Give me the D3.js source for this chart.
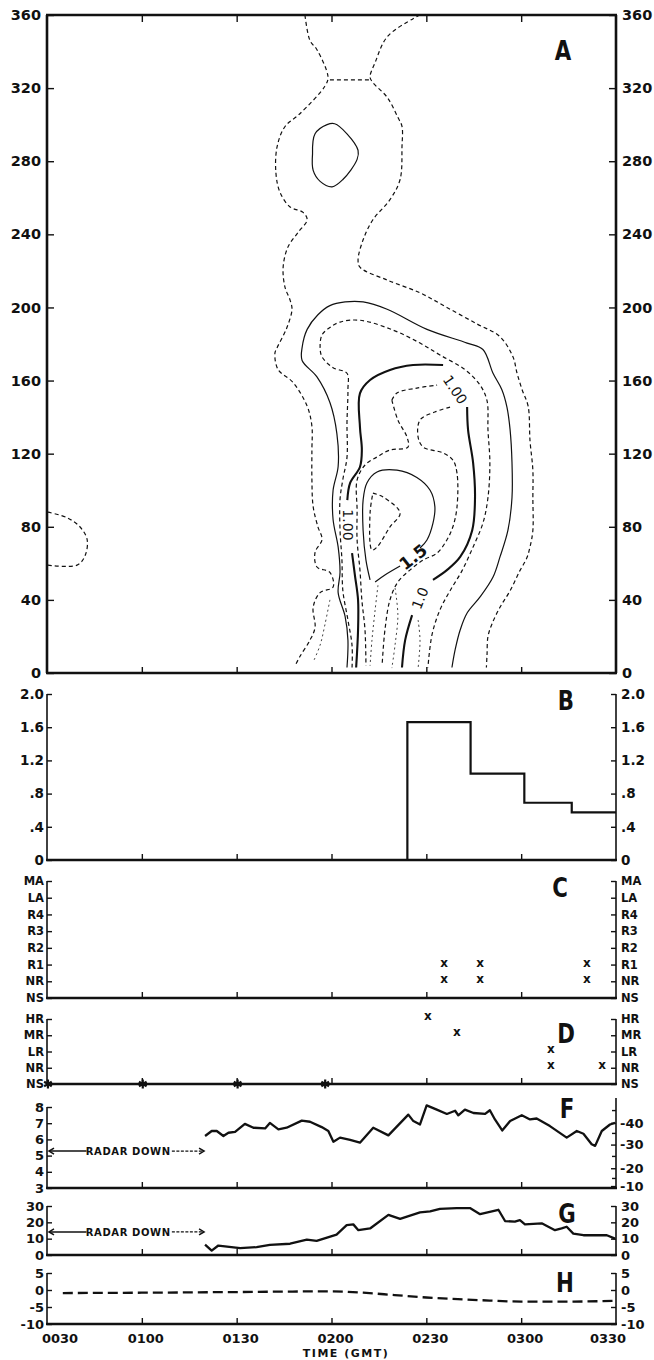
<!DOCTYPE html>
<html>
<head>
<meta charset="UTF-8">
<title>Storm time sections</title>
<script src="https://d3js.org/d3.v7.min.js"></script>
<style>
  body { margin: 0; background: #fff; }
  svg text { font-family: "DejaVu Sans", sans-serif; fill: #111; }
</style>
</head>
<body>
<svg id="chart" width="654" height="1360"></svg>
<script>
// time is minutes after 0030 GMT
const timeTicks = [0, 30, 60, 90, 120, 150, 180];
const timeLabels = ["0030", "0100", "0130", "0200", "0230", "0300", "0330"];

// panel A : azimuth (deg) vs time, contours as [minutes, degrees]
const azTicks = [0, 40, 80, 120, 160, 200, 240, 280, 320, 360];
const cOuterLeft = [[81.6,360],[83.2,346],[85.4,341],[88.9,326],[87.9,321],[80,306],[75.3,299],[72.8,288],[72.4,274],[73.7,263],[76.9,255],[81,252],[82.3,248],[79.4,241],[76.2,233],[74.7,222],[75.3,211],[76.9,204],[77.5,199],[75.9,189],[72.8,178],[72.1,175],[73.1,166],[77.8,159],[82.3,146],[83.8,135],[83.8,122],[83.8,106],[84.2,91],[85.7,80],[87,73],[84.8,66],[85.4,58],[89.5,55],[90.5,47],[86.4,44],[84.2,36],[84.8,25],[83.2,18],[80,9],[78.5,4]];
const cOuterSaddle = [[89.5,324.5],[102.2,324.5]];
const cOuterRight = [[118,360],[115.8,358],[107.6,348],[103.8,334],[102.2,326],[103.1,323],[107.6,315],[111,304],[112.3,299],[112.3,288],[111.7,270],[108.5,259],[103.1,248],[100,237],[98.4,226],[99,222],[107.6,215],[118,208],[126.5,200],[136,191],[143.3,184],[147.4,173],[148.7,164],[150.3,155],[152.2,146],[152.8,127],[153.7,111],[153.7,96],[153.7,78],[152.8,69],[151.8,63],[149.6,56],[146.5,45],[143.3,36],[140.8,27],[139.5,20],[139.2,10],[139,3]];
const cWestEdge = [[0.3,88],[6.3,85],[10.4,80],[12.7,73],[12,64],[9.5,59],[0.3,59]];
const cTopCell = [[84,284],[84.8,295],[88.6,300],[91,300.5],[94.9,295],[98.4,286],[98.1,281],[93.6,270],[90.2,266],[86.4,269],[84.2,275],[84,284]];
const cSolidU = [[94.9,3],[95.2,18],[94.3,31],[92.1,44],[92.7,55],[92.1,69],[90.5,84],[90.5,100],[92.1,113],[91.7,131],[89.5,148],[85.4,162],[80.7,171],[80.7,178],[82.3,188],[85.7,196],[89.5,201],[94.3,203],[100,203],[107.6,199],[120.2,188],[132.9,180.5],[137.9,177],[141.1,164],[143.9,155],[145.5,145.5],[146.5,133],[147.1,115],[147.1,96],[145.8,78],[143.3,63.5],[141.1,52.5],[137,41.6],[132.9,32.8],[130.7,23.5],[129.1,12.6],[128.1,3]];
const cDashU = [[96.5,3],[96.5,15],[95.2,29],[93.6,45],[93.3,62],[92.7,78],[92.7,95],[93.6,106],[94.9,118],[94.9,137],[95.2,155],[94.9,164],[90.5,167],[87,173],[86.4,178],[87,185],[89.5,189],[92.7,192],[99,193],[109.5,187.6],[118,180.5],[124.3,174],[132.2,166],[137,157.5],[139.2,149],[139.5,133],[140.1,115],[139.5,96],[137.9,82],[134.8,69],[131.3,56],[127.5,45],[124.3,34.5],[121.8,21],[120.5,3]];
const c100Low = [[97.8,3],[98.4,23.5],[98.4,40],[97.4,53.6],[96.5,65.6]];
const c100Top = [[95,94.6],[95.9,104],[99,112.7],[99.6,122],[99,134.6],[99,153],[102.2,160.3],[108.5,165.8],[115.8,168.5],[125.3,168.5]];
const c100Right = [[132.9,145.5],[133.2,133],[134.8,115],[135.4,96],[134.5,78],[130.7,63.5],[126.5,56.3],[122.1,51]];
const c100Tail = [[115.5,31.7],[113.3,18],[112.3,3]];
const c15Arc = [[102.2,51],[100.9,61.8],[100,78],[100,94.6],[101.2,104],[104.4,110],[110.7,111],[117,107],[121.2,100],[122.7,91],[122.1,82],[120.2,72.8],[118,68.4]];
const c15Tail = [[111.7,58.5],[106.9,53.6],[103.8,49.8]];
const cWedge = [[103.1,98.4],[106.3,96.3],[111.7,87.5],[108.5,79.9],[104.4,68.9],[102.8,67.3],[102.2,87.5],[103.1,98.4]];
const cInnerTop = [[109.1,149.3],[110.7,153.2],[117,155.9],[123.4,157.5]];
const cInnerLeft = [[109.1,149.3],[111,138.4],[113.9,129],[114.2,123.6],[108.5,122],[104.4,118.2],[100.6,113.8],[98.1,105.6],[98.1,89],[98.1,72.8],[99,56.3],[99.6,40],[100.6,23.5],[100.9,4]];
const cInnerRight = [[127.5,145.5],[122.7,142.8],[118,138.4],[117.4,129],[119,123.6],[125.3,120.4],[128.4,116.5],[129.7,109.4],[129.7,90.8],[128.4,80],[126.5,72.8],[123.4,65.6],[119,61.8],[114.8,56.3],[111,49.8],[108.5,40],[106.9,23.5],[106,4]];
const cStreaks = [
  [[104.7,48],[103.8,34.5],[102.8,18],[102.2,4]],
  [[110.1,46.5],[111,31.7],[110.1,15.3],[109.1,2.7]],
  [[89.5,40],[87.9,26.3],[86.4,15.3],[84.2,6]],
  [[117.4,29],[118,18],[117.4,2.7]]
];
const contourLabels = ["1.00", "1.00", "1.5", "1.0"];
const contourLabelPos = [[95.2, 81], [129.1, 155], [115.8, 63.5], [118, 41]];

// panel B
const bTimes = [0, 114, 134, 151, 166, 180];
const bValues = [0, 1.66, 1.04, 0.69, 0.575, 0.575];
const bTicks = [0, 0.4, 0.8, 1.2, 1.6, 2.0];
const bLabels = ["0", ".4", ".8", "1.2", "1.6", "2.0"];

// panel C
const cCats = ["NS", "NR", "R1", "R2", "R3", "R4", "LA", "MA"];
const cObsTimes = [125.6, 125.6, 137, 137, 170.8, 170.8];
const cObsClass = ["R1", "NR", "R1", "NR", "R1", "NR"];

// panel D
const dCats = ["NS", "NR", "LR", "MR", "HR"];
const dObsTimes = [120.5, 129.7, 159.4, 159.4, 175.6];
const dObsClass = ["HR", "MR", "LR", "NR", "NR"];
const dNoneTimes = [0.3, 30.3, 60.3, 88];

// panel F
const fTimes = [50.0,52.1,53.7,55.8,57.4,59.5,62.6,65.3,69.0,70.5,73.2,75.8,80.6,83.2,86.9,89.0,90.6,92.7,95.9,99.0,103.2,108.0,114.3,115.9,118.0,120.1,123.3,126.5,129.1,130.1,132.2,134.9,138.6,140.1,141.7,144.0,146.5,150.2,152.8,154.9,159.1,164.4,167.6,169.7,172.3,173.4,175.5,178.1,179.7];
const fValues = [6.21,6.52,6.52,6.21,6.41,6.46,6.96,6.72,6.68,7.02,6.62,6.72,7.16,7.09,6.76,6.52,5.85,6.11,5.97,5.80,6.72,6.25,7.53,7.13,6.92,8.10,7.84,7.57,7.77,7.49,7.84,7.63,7.57,7.80,7.23,6.55,7.13,7.49,7.23,7.29,6.82,6.11,6.52,6.35,5.70,5.60,6.52,6.92,7.02];
const fTicks = [3, 4, 5, 6, 7, 8];
const fRightVals = [7.02, 5.68, 4.22, 3.12];
const fRightLabels = ["-40", "-30", "-20", "-10"];
const fRightMinor = [7.81, 6.40, 4.98, 3.62];

// panel G
const gTimes = [50,52.1,54.2,61.1,66.3,70.5,76.9,82.2,85.3,91.6,94.8,96.9,98.5,102.2,108,111.7,118,121.2,124.3,129.6,133.8,137,142.8,144.9,148,149.6,151.2,156.5,160.7,162.8,164.4,166.5,169.7,177.1,179.7];
const gValues = [6.4,2.7,5.8,4.2,4.8,6.25,6.9,9.4,8.6,12.5,18.3,18.75,15.2,16.25,24.6,22.1,26.1,26.7,28.3,28.75,28.75,25.0,27.7,20.8,20.4,21.4,18.75,19.4,15.2,16.25,17.3,13.1,12.1,12.1,10.0];
const gTicks = [0, 10, 20, 30];

// panel H
const hTimes = [5, 30, 60, 90, 100, 110, 120, 130, 140, 150, 165, 180];
const hValues = [-0.9, -0.8, -0.6, -0.4, -0.8, -1.5, -2.2, -2.7, -3.1, -3.4, -3.4, -3.2];
const hTicks = [-10, -5, 0, 5];

const radarDownF = 5.28, radarDownG = 14.1, radarDownEnd = 50;

const svg = d3.select("#chart");
const x = d3.scaleLinear().domain([0, 180]).range([47, 616]);
const yA = d3.scaleLinear().domain([0, 360]).range([673, 15]);
const yB = d3.scaleLinear().domain([0, 2]).range([860, 694]);
const yC = d3.scalePoint().domain(cCats).range([998, 881]);
const yD = d3.scalePoint().domain(dCats).range([1084, 1019]);
const yF = d3.scaleLinear().domain([3, 8]).range([1188, 1107]);
const yG = d3.scaleLinear().domain([0, 30]).range([1255, 1206]);
const yH = d3.scaleLinear().domain([-10, 5]).range([1324, 1273]);

function styleAxis(g, size) {
  g.select(".domain").remove();
  g.attr("font-family", null).attr("font-size", null);
  g.selectAll("line").attr("stroke", "#111").attr("stroke-width", 1.4);
  g.selectAll("text").attr("font-size", size).attr("font-weight", "bold").attr("fill", "#111");
}

function panel(o) {
  const g = svg.append("g");
  const fmtL = o.leftLabels ? (d, i) => o.leftLabels[i] : d => d;
  const fmtR = o.rightLabels ? (d, i) => o.rightLabels[i] : d => d;
  g.append("g").attr("transform", "translate(47,0)")
    .call(d3.axisLeft(o.y).tickValues(o.leftVals).tickFormat(fmtL).tickSize(-o.tick).tickPadding(o.padL))
    .call(s => styleAxis(s, o.size));
  g.append("g").attr("transform", "translate(616,0)")
    .call(d3.axisRight(o.y).tickValues(o.rightVals || o.leftVals).tickFormat(fmtR).tickSize(-o.tick).tickPadding(o.padR))
    .call(s => styleAxis(s, o.size));
  g.append("g").attr("transform", `translate(0,${o.bottom})`)
    .call(d3.axisBottom(x).tickValues(timeTicks.slice(1, -1)).tickFormat("").tickSize(-6))
    .call(s => styleAxis(s, o.size));
  if (o.topTicks) {
    g.append("g").attr("transform", `translate(0,${o.top})`)
      .call(d3.axisTop(x).tickValues(timeTicks.slice(1, -1)).tickFormat("").tickSize(-7))
      .call(s => styleAxis(s, o.size));
  }
  g.append("line").attr("x1", 47).attr("x2", 47).attr("y1", o.top).attr("y2", o.bottom)
    .attr("stroke", "#111").attr("stroke-width", o.side);
  g.append("line").attr("x1", 616).attr("x2", 616).attr("y1", o.rtop || o.top).attr("y2", o.bottom)
    .attr("stroke", "#111").attr("stroke-width", o.side);
  g.append("line").attr("x1", 46).attr("x2", 617).attr("y1", o.bottom).attr("y2", o.bottom)
    .attr("stroke", "#111").attr("stroke-width", 2.4);
  if (o.topLine) {
    g.append("line").attr("x1", 46).attr("x2", 617).attr("y1", o.top).attr("y2", o.top)
      .attr("stroke", "#111").attr("stroke-width", 2.6);
  }
  svg.append("text").text(o.letter)
    .attr("transform", `translate(${o.lx},${o.ly}) scale(0.82,1)`)
    .attr("text-anchor", "middle").attr("font-size", 26).attr("font-weight", "bold");
  return g;
}

// ---- A
panel({ y: yA, top: 15, bottom: 673, leftVals: azTicks, tick: 7, padL: 6, padR: 6, size: 14.5,
  side: 2.6, topLine: true, topTicks: true, letter: "A", lx: 563, ly: 60 });

svg.append("clipPath").attr("id", "clipA").append("rect")
  .attr("x", 47).attr("y", 15).attr("width", 569).attr("height", 658);
const gA = svg.append("g").attr("clip-path", "url(#clipA)");
const cline = d3.line().x(d => x(d[0])).y(d => yA(d[1])).curve(d3.curveCatmullRom.alpha(0.5));

function contour(pts, dash, width) {
  gA.append("path").attr("d", cline(pts)).attr("fill", "none").attr("stroke", "#111")
    .attr("stroke-width", width).attr("stroke-dasharray", dash);
}
[cOuterLeft, cOuterSaddle, cOuterRight, cWestEdge, cDashU, cInnerTop, cInnerLeft, cInnerRight, cWedge]
  .forEach(p => contour(p, "4,3", 1.2));
[cTopCell, cSolidU, c15Arc, c15Tail].forEach(p => contour(p, null, 1.2));
[c100Low, c100Top, c100Right, c100Tail].forEach(p => contour(p, null, 2.1));
cStreaks.forEach(p => contour(p, "2,3", 0.8));

const labelRot = [90, 56, -38, -68];
const labelSize = [14, 14, 17, 14];
contourLabels.forEach((t, i) => {
  svg.append("text").text(t)
    .attr("transform", `translate(${x(contourLabelPos[i][0])},${yA(contourLabelPos[i][1])}) rotate(${labelRot[i]})`)
    .attr("text-anchor", "middle").attr("dy", "0.36em")
    .attr("font-size", labelSize[i]).attr("font-weight", i === 2 ? "bold" : "normal");
});

// ---- B
panel({ y: yB, top: 694, bottom: 860, leftVals: bTicks, leftLabels: bLabels, rightLabels: bLabels,
  tick: 5, padL: 3, padR: 5, size: 13.5, side: 1.6, letter: "B", lx: 566, ly: 710 });
svg.append("path")
  .attr("d", d3.line().x((d, i) => x(bTimes[i])).y(d => yB(d)).curve(d3.curveStepAfter)(bValues))
  .attr("fill", "none").attr("stroke", "#111").attr("stroke-width", 2.2);

// ---- C
panel({ y: yC, top: 881, bottom: 998, leftVals: cCats, tick: 5, padL: 3, padR: 5, size: 11.5,
  side: 1.6, letter: "C", lx: 560, ly: 897 });
cObsTimes.forEach((t, i) => {
  svg.append("text").text("x").attr("x", x(t)).attr("y", yC(cObsClass[i]) - 2)
    .attr("text-anchor", "middle").attr("dy", "0.35em").attr("font-size", 12).attr("font-weight", "bold");
});

// ---- D
panel({ y: yD, top: 1019, bottom: 1084, leftVals: dCats, tick: 5, padL: 3, padR: 5, size: 11.5,
  side: 1.6, letter: "D", lx: 566, ly: 1043 });
dObsTimes.forEach((t, i) => {
  svg.append("text").text("x").attr("x", x(t)).attr("y", yD(dObsClass[i]) - 3)
    .attr("text-anchor", "middle").attr("dy", "0.35em").attr("font-size", 12).attr("font-weight", "bold");
});
dNoneTimes.forEach(t => {
  svg.append("path").attr("d", d3.symbol(d3.symbolAsterisk, 55)())
    .attr("transform", `translate(${x(t)},${yD("NS")})`)
    .attr("fill", "none").attr("stroke", "#111").attr("stroke-width", 2.2);
});

// ---- F
const gF = panel({ y: yF, top: 1107, rtop: 1098, bottom: 1188, leftVals: fTicks, rightVals: fRightVals,
  rightLabels: fRightLabels, tick: 5, padL: 3, padR: 4, size: 13, side: 1.6, letter: "F", lx: 567, ly: 1118 });
gF.append("g").attr("transform", "translate(616,0)")
  .call(d3.axisRight(yF).tickValues(fRightMinor).tickFormat("").tickSize(-4))
  .call(s => styleAxis(s, 12));
svg.append("path")
  .attr("d", d3.line().x((d, i) => x(fTimes[i])).y(d => yF(d))(fValues))
  .attr("fill", "none").attr("stroke", "#111").attr("stroke-width", 2.3).attr("stroke-linejoin", "round");

// ---- G
panel({ y: yG, top: 1206, bottom: 1255, leftVals: gTicks, tick: 5, padL: 3, padR: 5, size: 13,
  side: 1.6, letter: "G", lx: 567, ly: 1223 });
svg.append("path")
  .attr("d", d3.line().x((d, i) => x(gTimes[i])).y(d => yG(d))(gValues))
  .attr("fill", "none").attr("stroke", "#111").attr("stroke-width", 2.3).attr("stroke-linejoin", "round");

// ---- H
panel({ y: yH, top: 1273, bottom: 1324, leftVals: hTicks, tick: 5, padL: 3, padR: 5, size: 13,
  side: 1.6, letter: "H", lx: 565, ly: 1292 });
svg.append("path")
  .attr("d", d3.line().x((d, i) => x(hTimes[i])).y(d => yH(d)).curve(d3.curveMonotoneX)(hValues))
  .attr("fill", "none").attr("stroke", "#111").attr("stroke-width", 2.3).attr("stroke-dasharray", "10,5");

// radar down arrows
function radarDown(y, v) {
  const yy = y(v);
  const g = svg.append("g").attr("stroke", "#111").attr("fill", "none");
  g.append("line").attr("x1", x(0) + 2).attr("x2", x(12.5)).attr("y1", yy).attr("y2", yy).attr("stroke-width", 1.5);
  g.append("line").attr("x1", x(39.5)).attr("x2", x(radarDownEnd) - 1).attr("y1", yy).attr("y2", yy)
    .attr("stroke-width", 1.2).attr("stroke-dasharray", "3,1.5");
  g.append("path").attr("d", `M${x(0) + 7},${yy - 3}L${x(0) + 2},${yy}L${x(0) + 7},${yy + 3}`).attr("stroke-width", 1.5);
  g.append("path").attr("d", `M${x(radarDownEnd) - 6},${yy - 3}L${x(radarDownEnd) - 1},${yy}L${x(radarDownEnd) - 6},${yy + 3}`).attr("stroke-width", 1.5);
  svg.append("text").text("RADAR DOWN").attr("x", x(25.7)).attr("y", yy).attr("dy", "0.36em")
    .attr("text-anchor", "middle").attr("font-size", 10).attr("font-weight", "bold").attr("letter-spacing", 0.6);
}
radarDown(yF, radarDownF);
radarDown(yG, radarDownG);

// time axis labels
svg.append("g").selectAll("text").data(timeTicks).join("text")
  .text((d, i) => timeLabels[i])
  .attr("x", (d, i) => x(d) + (i === 0 ? 13 : i === 6 ? -8 : 4))
  .attr("y", 1343).attr("text-anchor", "middle").attr("font-size", 13).attr("font-weight", "bold");
svg.append("text").text("TIME (GMT)").attr("x", 346).attr("y", 1357)
  .attr("text-anchor", "middle").attr("font-size", 11).attr("font-weight", "bold").attr("letter-spacing", 1.5);
</script>
</body>
</html>
